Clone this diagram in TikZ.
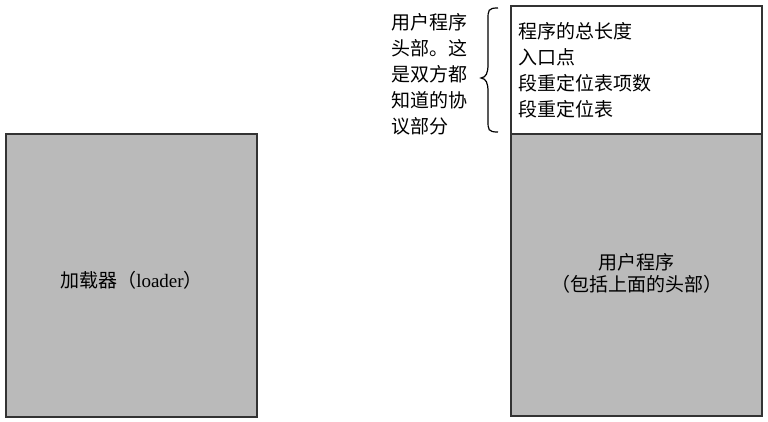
\documentclass[tikz,border=0pt]{standalone}
\usepackage{fontspec}
\setmainfont{Liberation Serif}
\newfontfamily\cjk{Noto Sans CJK SC}
\tikzset{
  blk/.style={draw=black!80, line width=1.3pt, fill=black!27},
  hdr/.style={draw=black!80, line width=1.3pt, fill=white},
  txt/.style={font=\cjk\fontsize{19}{22}\selectfont, align=center, inner sep=0pt},
  ltxt/.style={font=\cjk\fontsize{19}{26}\selectfont, align=left, inner sep=0pt, anchor=north west},
  brace/.style={draw=black, line width=1.2pt}
}
\begin{document}
\begin{tikzpicture}[x=1pt,y=-1pt]
\useasboundingbox (0,0) rectangle (768,422);
% loader box
\draw[blk] (6,134) rectangle (257,417);
\node[txt] (loader) at (131.5,280) {加载器（{\rmfamily loader}）};
% user program
\draw[hdr] (511,6) rectangle (762,134);
\draw[blk] (511,134) rectangle (762,416);
\node[txt] (prog) at (636.5,273) {用户程序\\（包括上面的头部）};
\node[ltxt] (hdrtext) at (518,22) {程序的总长度\\入口点\\段重定位表项数\\段重定位表};
% brace
\draw[brace] (498,8) .. controls (488,8) and (488,10) .. (488,20)
  -- (488,64) .. controls (488,74) and (486,77) .. (481,78)
  .. controls (486,79) and (488,82) .. (488,92)
  -- (488,120) .. controls (488,130) and (488,132) .. (498,132);
\node[ltxt] (side) at (391,13) {用户程序\\头部。这\\是双方都\\知道的协\\议部分};
\end{tikzpicture}
\end{document}
